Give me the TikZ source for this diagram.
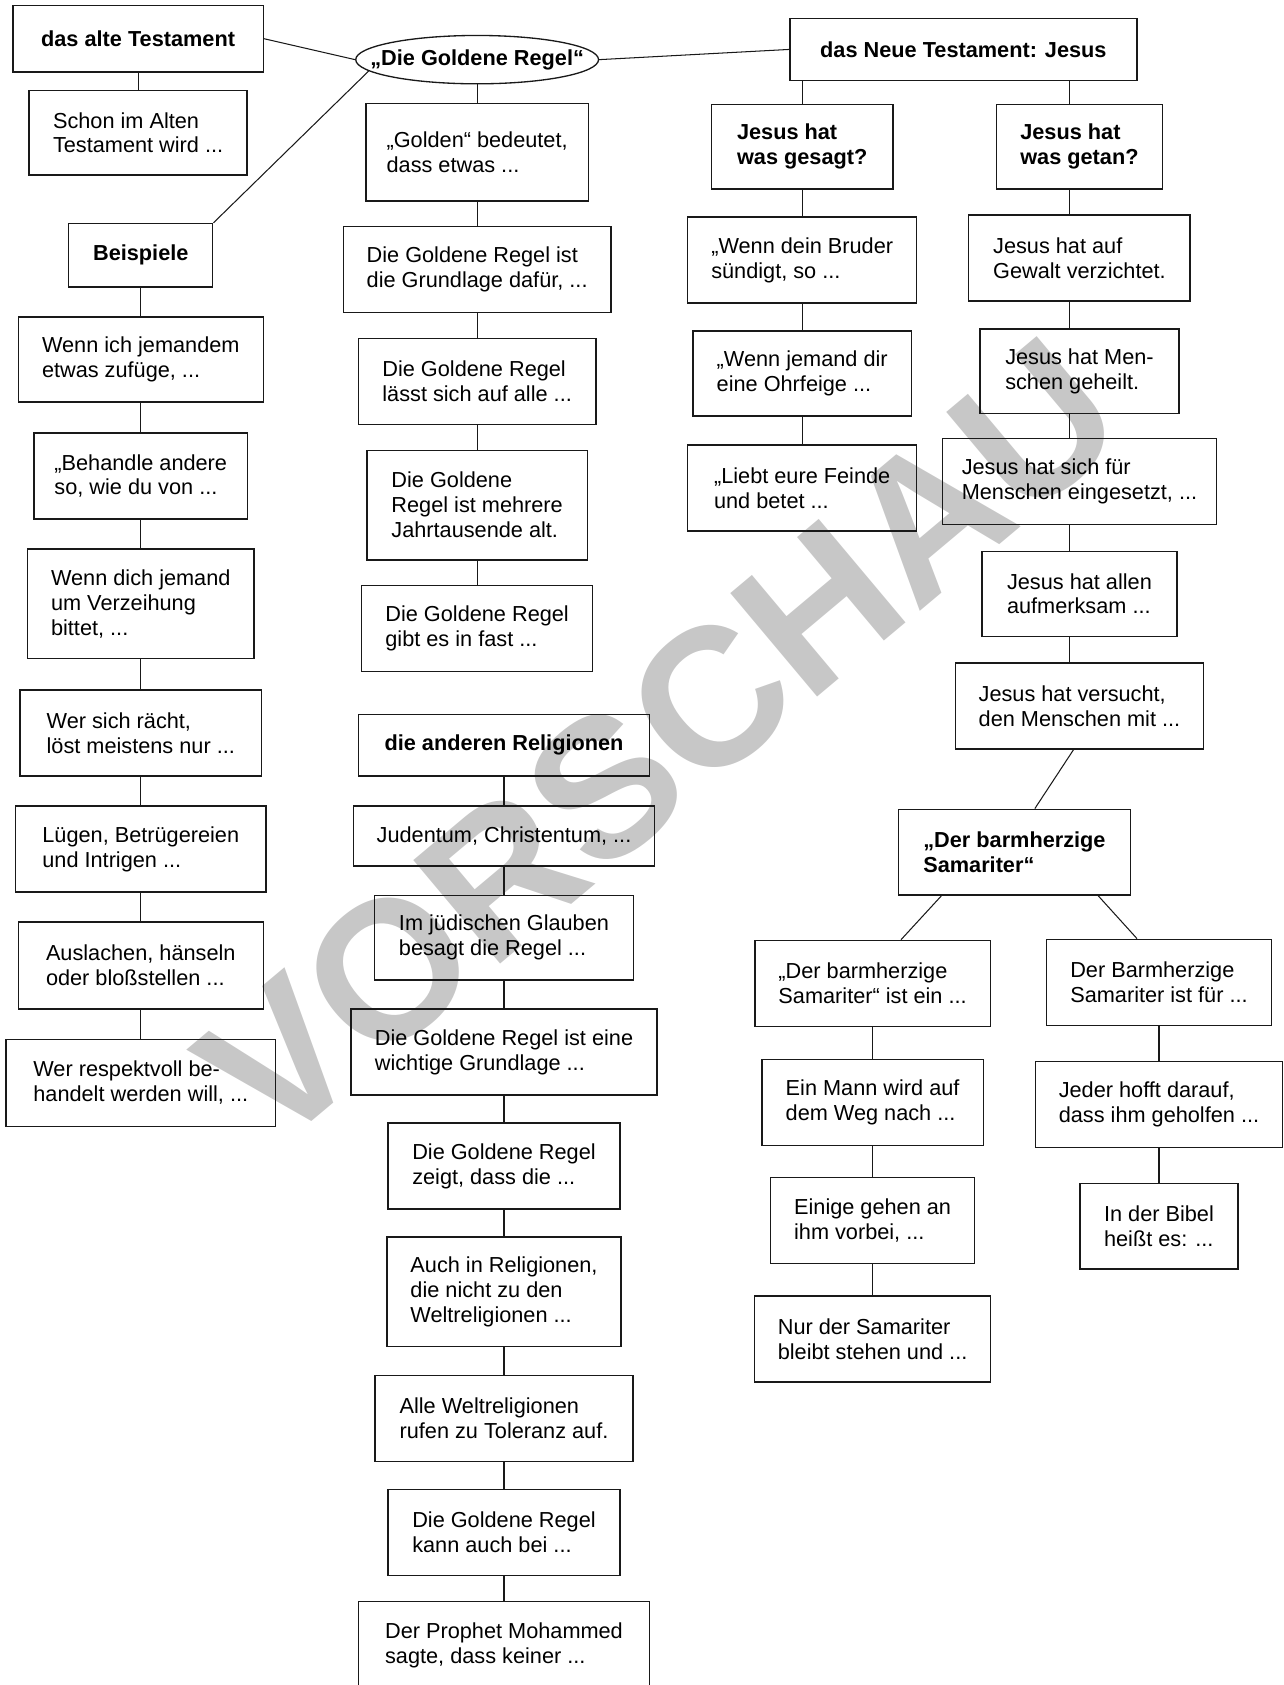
\documentclass[tikz,border=0pt]{standalone}
\usepackage{fontspec}
\setmainfont{Liberation Sans}
\usetikzlibrary{shapes.geometric}

\begin{document}
\begin{tikzpicture}[
    x=0.02cm, y=-0.02cm,
    box/.style={rectangle, draw=black!90, line width=0.7pt, align=left, inner sep=0pt, font=\fontsize{11.5}{13.2}\selectfont},
    head/.style={box, font=\fontsize{11.5}{13.2}\selectfont\bfseries},
    rule/.style={ellipse, draw=black!90, line width=0.7pt, inner sep=0pt, minimum width=4.52cm, minimum height=0.9cm, font=\fontsize{11.5}{13.2}\selectfont\bfseries},
    line/.style={draw=black!90, line width=0.55pt},
    watermark/.style={text=black!22, rotate=40, inner sep=0pt, font=\fontsize{104}{104}\selectfont\bfseries}
]
    \useasboundingbox (0,0) rectangle (1194,1568);

    % Wasserzeichen
    \node[watermark] (wm) at (614,690) {VORSCHAU};

    % Altes Testament
    \node[head, minimum width=4.66cm, minimum height=1.24cm] (alt) at (128.5,36) {das alte Testament};
    \node[box, minimum width=4.06cm, minimum height=1.58cm] (schon) at (128.5,123.5) {Schon im Alten\\Testament wird ...};
    \node[head, minimum width=2.68cm, minimum height=1.18cm] (beisp) at (131,237.5) {Beispiele};
    \node[box, minimum width=4.56cm, minimum height=1.58cm] (bsp1) at (131,334.5) {Wenn ich jemandem\\etwas zufüge, ...};
    \node[box, minimum width=3.98cm, minimum height=1.6cm] (bsp2) at (131,443) {„Behandle andere\\so, wie du von ...};
    \node[box, minimum width=4.22cm, minimum height=2.04cm] (bsp3) at (131,562) {Wenn dich jemand\\um Verzeihung\\bittet, ...};
    \node[box, minimum width=4.5cm, minimum height=1.6cm] (bsp4) at (131,682) {Wer sich rächt,\\löst meistens nur ...};
    \node[box, minimum width=4.66cm, minimum height=1.6cm] (bsp5) at (131,790) {Lügen, Betrügereien\\und Intrigen ...};
    \node[box, minimum width=4.56cm, minimum height=1.62cm] (bsp6) at (131,898.5) {Auslachen, hänseln\\oder bloßstellen ...};
    \node[box, minimum width=5.02cm, minimum height=1.62cm] (bsp7) at (131,1007.5) {Wer respektvoll be-\\handelt werden will, ...};

    % Goldene Regel
    \node[rule] (regel) at (444,55.5) {\makebox[0pt]{„Die Goldene Regel“}};
    \node[box, minimum width=4.14cm, minimum height=1.82cm] (gold1) at (444,141.5) {„Golden“ bedeutet,\\dass etwas ...};
    \node[box, minimum width=4.98cm, minimum height=1.6cm] (gold2) at (444,251) {Die Goldene Regel ist\\die Grundlage dafür, ...};
    \node[box, minimum width=4.42cm, minimum height=1.6cm] (gold3) at (444,355) {Die Goldene Regel\\lässt sich auf alle ...};
    \node[box, minimum width=4.1cm, minimum height=2.04cm] (gold4) at (444,470) {Die Goldene\\Regel ist mehrere\\Jahrtausende alt.};
    \node[box, minimum width=4.3cm, minimum height=1.6cm] (gold5) at (444,585) {Die Goldene Regel\\gibt es in fast ...};

    % andere Religionen
    \node[head, minimum width=5.42cm, minimum height=1.14cm] (reli) at (469,693.5) {die anderen Religionen};
    \node[box, minimum width=5.6cm, minimum height=1.12cm] (rel1) at (469,778) {Judentum, Christentum, ...};
    \node[box, minimum width=4.82cm, minimum height=1.58cm] (rel2) at (469,872.5) {Im jüdischen Glauben\\besagt die Regel ...};
    \node[box, minimum width=5.7cm, minimum height=1.6cm] (rel3) at (469,979) {Die Goldene Regel ist eine\\wichtige Grundlage ...};
    \node[box, minimum width=4.32cm, minimum height=1.6cm] (rel4) at (469,1085) {Die Goldene Regel\\zeigt, dass die ...};
    \node[box, minimum width=4.36cm, minimum height=2.04cm] (rel5) at (469,1202) {Auch in Religionen,\\die nicht zu den\\Weltreligionen ...};
    \node[box, minimum width=4.8cm, minimum height=1.6cm] (rel6) at (469,1320) {Alle Weltreligionen\\rufen zu Toleranz auf.};
    \node[box, minimum width=4.32cm, minimum height=1.6cm] (rel7) at (469,1426) {Die Goldene Regel\\kann auch bei ...};
    \node[box, minimum width=5.42cm, minimum height=1.64cm] (rel8) at (469,1531) {Der Prophet Mohammed\\sagte, dass keiner ...};

    % Neues Testament
    \node[head, minimum width=6.46cm, minimum height=1.16cm] (nt) at (896.5,46) {das Neue Testament: Jesus};
    \node[head, minimum width=3.38cm, minimum height=1.58cm] (gesagt) at (746.5,136.5) {Jesus hat\\was gesagt?};
    \node[head, minimum width=3.1cm, minimum height=1.58cm] (getan) at (1004.5,136.5) {Jesus hat\\was getan?};
    \node[box, minimum width=4.26cm, minimum height=1.6cm] (sagt1) at (746.5,242) {„Wenn dein Bruder\\sündigt, so ...};
    \node[box, minimum width=4.06cm, minimum height=1.58cm] (sagt2) at (746.5,347.5) {„Wenn jemand dir\\eine Ohrfeige ...};
    \node[box, minimum width=4.26cm, minimum height=1.6cm] (sagt3) at (746.5,454) {„Liebt eure Feinde\\und betet ...};
    \node[box, minimum width=4.12cm, minimum height=1.6cm] (tat1) at (1004.5,240) {Jesus hat auf\\Gewalt verzichtet.};
    \node[box, minimum width=3.7cm, minimum height=1.58cm] (tat2) at (1004.5,345.5) {Jesus hat Men-\\schen geheilt.};
    \node[box, minimum width=5.1cm, minimum height=1.6cm] (tat3) at (1004.5,448) {Jesus hat sich für\\Menschen eingesetzt, ...};
    \node[box, minimum width=3.63cm, minimum height=1.58cm] (tat4) at (1004.5,552.5) {Jesus hat allen\\aufmerksam ...};
    \node[box, minimum width=4.62cm, minimum height=1.6cm] (tat5) at (1004.5,657) {Jesus hat versucht,\\den Menschen mit ...};

    % Samariter
    \node[head, minimum width=4.32cm, minimum height=1.6cm] (sama) at (944,793) {„Der barmherzige\\Samariter“};
    \node[box, minimum width=4.38cm, minimum height=1.6cm] (sam1) at (812,915) {„Der barmherzige\\Samariter“ ist ein ...};
    \node[box, minimum width=4.12cm, minimum height=1.6cm] (sam2) at (812,1026) {Ein Mann wird auf\\dem Weg nach ...};
    \node[box, minimum width=3.8cm, minimum height=1.6cm] (sam3) at (812,1136) {Einige gehen an\\ihm vorbei, ...};
    \node[box, minimum width=4.4cm, minimum height=1.6cm] (sam4) at (812,1246) {Nur der Samariter\\bleibt stehen und ...};
    \node[box, minimum width=4.18cm, minimum height=1.6cm] (hilf1) at (1078.5,914) {Der Barmherzige\\Samariter ist für ...};
    \node[box, minimum width=4.6cm, minimum height=1.6cm] (hilf2) at (1078.5,1028) {Jeder hofft darauf,\\dass ihm geholfen ...};
    \node[box, minimum width=2.94cm, minimum height=1.6cm] (hilf3) at (1078.5,1141) {In der Bibel\\heißt es: ...};

    % Verbindungen - Mitte
    \draw[line] (alt.east) -- (regel.west);
    \draw[line] (regel.east) -- (nt.west);
    \draw[line] (beisp.north east) -- (regel.186);

    % Verbindungen - links
    \draw[line] (alt) -- (schon);
    \draw[line] (beisp) -- (bsp1);
    \draw[line] (bsp1) -- (bsp2);
    \draw[line] (bsp2) -- (bsp3);
    \draw[line] (bsp3) -- (bsp4);
    \draw[line] (bsp4) -- (bsp5);
    \draw[line] (bsp5) -- (bsp6);
    \draw[line] (bsp6) -- (bsp7);

    % Verbindungen - Goldene Regel
    \draw[line] (regel) -- (gold1);
    \draw[line] (gold1) -- (gold2);
    \draw[line] (gold2) -- (gold3);
    \draw[line] (gold3) -- (gold4);
    \draw[line] (gold4) -- (gold5);

    \draw[line] (reli) -- (rel1);
    \draw[line] (rel1) -- (rel2);
    \draw[line] (rel2) -- (rel3);
    \draw[line] (rel3) -- (rel4);
    \draw[line] (rel4) -- (rel5);
    \draw[line] (rel5) -- (rel6);
    \draw[line] (rel6) -- (rel7);
    \draw[line] (rel7) -- (rel8);

    % Verbindungen - Jesus
    \draw[line] (nt.south -| gesagt.north) -- (gesagt.north);
    \draw[line] ([xshift=-1.9mm]getan.north |- nt.south) -- ([xshift=-1.9mm]getan.north);
    \draw[line] (gesagt) -- (sagt1);
    \draw[line] (sagt1) -- (sagt2);
    \draw[line] (sagt2) -- (sagt3);
    \draw[line] ([xshift=-1.9mm]getan.south) -- ([xshift=-1.9mm]tat1.north);
    \draw[line] ([xshift=-1.9mm]tat1.south) -- ([xshift=-1.9mm]tat2.north);
    \draw[line] ([xshift=-1.9mm]tat2.south) -- ([xshift=-1.9mm]tat3.north);
    \draw[line] ([xshift=-1.9mm]tat3.south) -- ([xshift=-1.9mm]tat4.north);
    \draw[line] ([xshift=-1.9mm]tat4.south) -- ([xshift=-1.9mm]tat5.north);
    \draw[line] ([xshift=-1.1mm]tat5.south) -- ([xshift=3.8mm]sama.north);

    % Verbindungen - Samariter
    \draw[line] ([xshift=-13.6mm]sama.south) -- ([xshift=5.3mm]sam1.north);
    \draw[line] ([xshift=15.6mm]sama.south) -- ([xshift=-4.1mm]hilf1.north);
    \draw[line] (sam1) -- (sam2);
    \draw[line] (sam2) -- (sam3);
    \draw[line] (sam3) -- (sam4);
    \draw[line] (hilf1) -- (hilf2);
    \draw[line] (hilf2) -- (hilf3);

\end{tikzpicture}
\end{document}
